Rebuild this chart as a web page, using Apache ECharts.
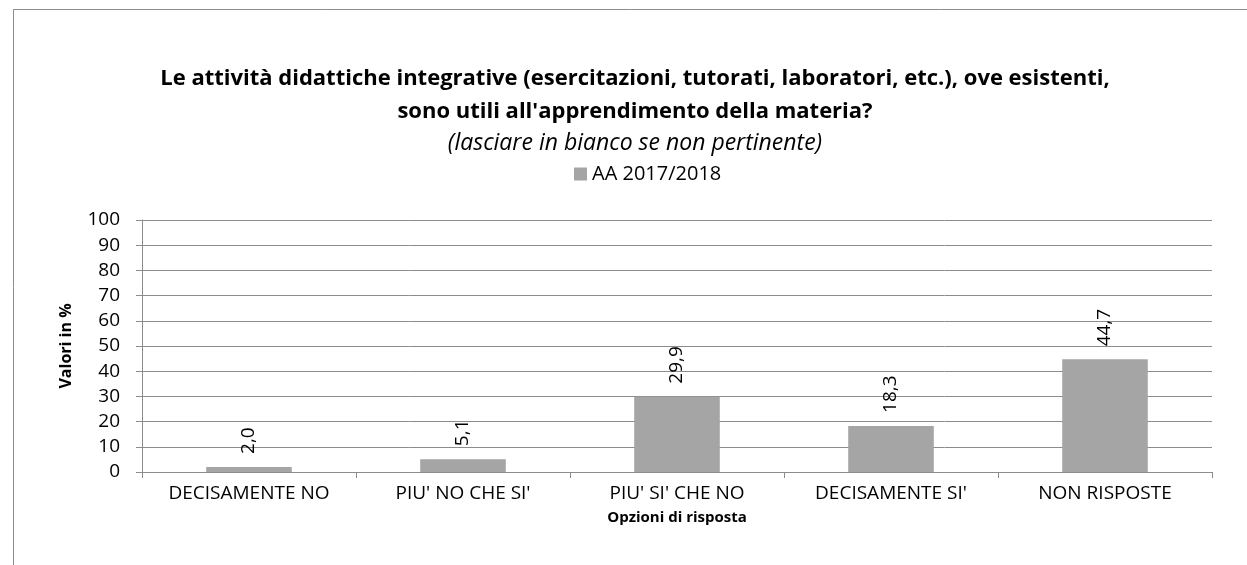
<!DOCTYPE html>
<html>
<head>
    <meta charset="utf-8" />
    <title>Attività didattiche integrative</title>
    <script src="https://cdn.jsdelivr.net/npm/echarts@6/dist/echarts.min.js"></script>
    <style>
        body { margin: 0; background: #fff; }
        #main { width: 1247px; height: 565px; }
    </style>
</head>
<body>
<div id="main"></div>
<script type="text/javascript">
    // dati
    var categories = ["DECISAMENTE NO", "PIU' NO CHE SI'", "PIU' SI' CHE NO", "DECISAMENTE SI'", "NON RISPOSTE"];
    var values = [2.0, 5.1, 29.9, 18.3, 44.7];
    var seriesName = 'AA 2017/2018';
    var yTicks = [0, 100, 10];   // min, max, passo

    var font = 'Open Sans';

    var option = {
        backgroundColor: '#FFFFFF',
        textStyle: { fontFamily: font },
        graphic: [{
            type: 'rect',
            shape: { x: 13.5, y: 9.5, width: 1400, height: 700 },
            style: { fill: 'none', stroke: '#8c8c8c', lineWidth: 1 },
            silent: true
        }],
        title: {
            text: "Le attività didattiche integrative (esercitazioni, tutorati, laboratori, etc.), ove esistenti,\nsono utili all'apprendimento della materia?",
            subtext: '(lasciare in bianco se non pertinente)',
            left: 630,
            textAlign: 'center',
            top: 57,
            itemGap: 3,
            textStyle: { fontFamily: font, fontSize: 22, fontWeight: 'bold', color: '#000', lineHeight: 33 },
            subtextStyle: { fontFamily: font, fontSize: 23, fontStyle: 'italic', color: '#000', lineHeight: 24 }
        },
        legend: {
            top: 159,
            left: 569,
            itemWidth: 13,
            itemHeight: 13,
            itemGap: 5,
            icon: 'rect',
            textStyle: { fontFamily: font, fontSize: 20, color: '#000' },
            data: [seriesName]
        },
        grid: { left: 142, right: 35, top: 220, bottom: 93, containLabel: false },
        xAxis: {
            type: 'category',
            data: categories,
            name: 'Opzioni di risposta',
            nameLocation: 'middle',
            nameGap: 38,
            nameTextStyle: { fontFamily: font, fontSize: 15, fontWeight: 'bold', color: '#000' },
            axisLine: { lineStyle: { color: '#8c8c8c', width: 1 } },
            axisTick: { show: true, length: 6, alignWithLabel: false, lineStyle: { color: '#8c8c8c' } },
            axisLabel: { fontFamily: font, fontSize: 19, color: '#000', margin: 12 }
        },
        yAxis: {
            type: 'value',
            min: yTicks[0],
            max: yTicks[1],
            interval: yTicks[2],
            name: 'Valori in %',
            nameLocation: 'middle',
            nameGap: 68,
            nameTextStyle: { fontFamily: font, fontSize: 16, fontWeight: 'bold', color: '#000' },
            axisLine: { show: true, lineStyle: { color: '#8c8c8c', width: 1 } },
            axisTick: { show: true, length: 6, inside: false, lineStyle: { color: '#8c8c8c' } },
            axisLabel: { fontFamily: font, fontSize: 19, color: '#000', margin: 22 },
            splitLine: { show: true, lineStyle: { color: '#8c8c8c', width: 1 } }
        },
        series: [{
            name: seriesName,
            type: 'bar',
            data: values,
            barWidth: '40%',
            itemStyle: { color: '#a5a5a5' },
            label: {
                show: true,
                position: 'top',
                rotate: 90,
                align: 'left',
                verticalAlign: 'middle',
                distance: 13,
                fontFamily: font,
                fontSize: 19,
                color: '#000',
                formatter: function (p) { return p.value.toFixed(1).replace('.', ','); }
            }
        }]
    };

    var myChart = echarts.init(document.getElementById('main'));
    myChart.setOption(option);
</script>
</body>
</html>
